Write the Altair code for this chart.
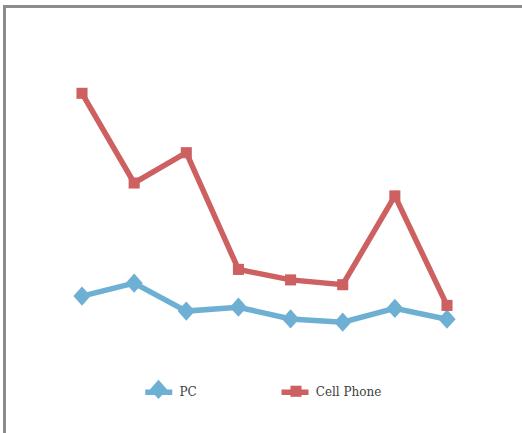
import altair as alt
import pandas as pd

categories = ["2006", "2007", "2008", "2009", "2010", "2011", "2012", "2013"]
series_names = ["PC", "Cell Phone"]
pc_values = [21.3, 25.6, 16.3, 17.6, 13.7, 12.6, 17.2, 13.6]
cell_values = [88.9, 59.0, 69.1, 30.2, 26.7, 25.1, 54.7, 18.2]
colors = ["#6eb0d4", "#cd6060"]
shapes = ["M0,-0.71L0.64,0L0,0.71L-0.64,0Z", "M-0.41,-0.41H0.41V0.41H-0.41Z"]

rows = []
for name, vals in zip(series_names, [pc_values, cell_values]):
    for c, v in zip(categories, vals):
        rows.append({"category": c, "series": name, "value": v})
df = pd.DataFrame(rows)

x_enc = alt.X("category:O", sort=categories, axis=None,
              scale=alt.Scale(type="point", range=[82, 447], padding=0))
y_enc = alt.Y("value:Q", axis=None,
              scale=alt.Scale(domain=[0, 100], range=[360, 60], nice=False, zero=False))

legend_common = dict(
    orient="none", legendY=375.5, direction="horizontal",
    title=None, symbolSize=729, labelFont="DejaVu Serif", labelFontSize=12,
    labelColor="#404040", padding=0,
)

lines = alt.Chart(df).mark_line(strokeWidth=5.5).encode(
    x=x_enc, y=y_enc,
    color=alt.Color("series:N", sort=series_names, scale=alt.Scale(range=colors),
                    legend=alt.Legend(symbolType="stroke", symbolStrokeWidth=5.5,
                                      legendX=142.25, labelOffset=4.25,
                                      columnPadding=73.25, **legend_common)),
)

marker_legend = dict(symbolStrokeWidth=0, symbolOpacity=1, labelExpr="''",
                     legendX=145, labelOffset=1, columnPadding=109.5, **legend_common)
points = alt.Chart(df).transform_calculate(series2="datum.series").mark_point(
    filled=True, opacity=1, size=729, strokeWidth=0
).encode(
    x=x_enc, y=y_enc,
    fill=alt.Fill("series2:N", scale=alt.Scale(domain=series_names, range=colors),
                  legend=alt.Legend(**marker_legend)),
    shape=alt.Shape("series2:N", scale=alt.Scale(domain=series_names, range=shapes),
                    legend=alt.Legend(**marker_legend)),
)

frame = alt.Data(values=[{"k": 1}])
top_rule = alt.Chart(frame).mark_rule(color="#8c8c8c", strokeWidth=3).encode(
    x=alt.value(3), x2=alt.value(522), y=alt.value(6.5))
left_rule = alt.Chart(frame).mark_rule(color="#8c8c8c", strokeWidth=3).encode(
    x=alt.value(4.5), y=alt.value(5), y2=alt.value(433))

chart = alt.layer(lines, points, top_rule, left_rule).properties(
    width=522, height=433, padding=0, autosize=alt.AutoSizeParams(type="none"),
    background="white",
).configure_view(stroke=None)

chart.save("out.html", embed_options={"renderer": "svg", "actions": False})
